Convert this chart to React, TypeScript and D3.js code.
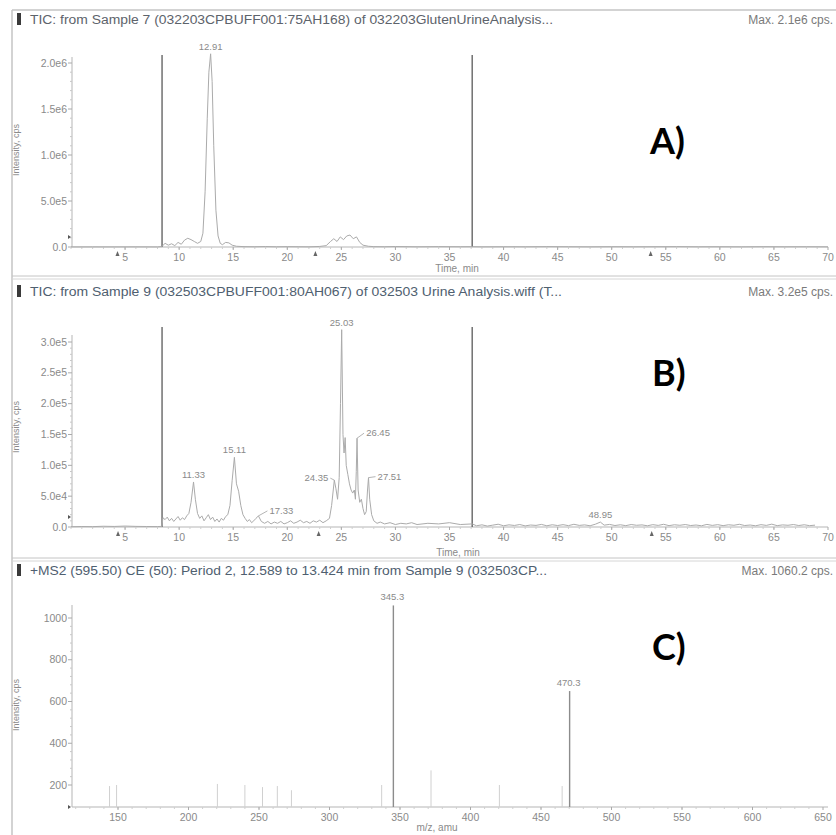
import React from "react";
import * as d3 from "d3";

// ---- panel A: TIC sample 7 (time, min / intensity, cps)
const timeA = [0, 2, 4, 6, 8, 8.4, 8.7, 9.0, 9.3, 9.6, 9.9, 10.2, 10.5, 10.8, 11.1, 11.4, 11.7, 12.0, 12.2, 12.4, 12.6, 12.75, 12.91, 13.05, 13.2, 13.4, 13.6, 13.8, 14.0, 14.3, 14.6, 14.9, 15.3, 16, 17, 18, 19, 20, 21, 22, 23, 23.6, 24.0, 24.3, 24.6, 24.9, 25.2, 25.5, 25.8, 26.1, 26.4, 26.7, 27.0, 27.5, 28, 29, 30, 32, 34, 36, 37.1, 38, 40, 42, 44, 46, 48, 50, 52, 54, 56, 58, 60, 62, 64, 66, 68, 70];
const intensityA = [1000, 1500, 1200, 1800, 1000, 5000, 40000, 20000, 35000, 15000, 50000, 30000, 75000, 95000, 80000, 60000, 40000, 60000, 150000, 600000, 1400000, 1900000, 2100000, 1800000, 1100000, 400000, 120000, 40000, 25000, 50000, 45000, 20000, 8000, 4000, 3000, 5000, 2500, 4000, 3000, 2000, 6000, 15000, 60000, 90000, 60000, 110000, 80000, 120000, 130000, 90000, 110000, 50000, 20000, 8000, 4000, 3000, 5000, 2500, 4000, 3000, 3500, 2000, 3000, 2500, 4000, 3000, 2000, 3500, 2500, 3000, 4000, 2500, 3000, 2000, 3500, 2500, 3000, 2000];
const peakTimesA = [12.91];
const peakHeightsA = [2100000];
const yTicksA = [0, 500000, 1000000, 1500000, 2000000];
const yTickLabelsA = ["0.0", "5.0e5", "1.0e6", "1.5e6", "2.0e6"];
const markerTimesA = [4.3, 22.6, 53.6];

// ---- panel B: TIC sample 9
const timeB = [0, 1, 2, 3, 4, 5, 6, 7, 8, 8.4, 8.5, 8.7, 8.9, 9.1, 9.3, 9.5, 9.7, 9.9, 10.1, 10.3, 10.5, 10.7, 10.9, 11.1, 11.33, 11.5, 11.7, 11.9, 12.1, 12.3, 12.5, 12.7, 12.9, 13.1, 13.3, 13.5, 13.7, 13.9, 14.1, 14.3, 14.5, 14.7, 14.9, 15.11, 15.3, 15.5, 15.7, 15.9, 16.1, 16.3, 16.5, 16.7, 16.9, 17.1, 17.33, 17.6, 17.9, 18.2, 18.5, 18.8, 19.1, 19.4, 19.7, 20.0, 20.3, 20.6, 20.9, 21.2, 21.5, 21.8, 22.1, 22.4, 22.7, 23.0, 23.3, 23.6, 23.9, 24.1, 24.35, 24.5, 24.65, 24.8, 24.92, 25.03, 25.15, 25.25, 25.35, 25.45, 25.6, 25.75, 25.9, 26.05, 26.2, 26.3, 26.38, 26.45, 26.55, 26.7, 26.85, 27.0, 27.15, 27.3, 27.42, 27.51, 27.62, 27.8, 28.0, 28.3, 28.6, 29, 29.5, 30, 30.5, 31, 31.5, 32, 33, 34, 35, 36, 37.1, 37.5, 38, 38.5, 39, 39.5, 40, 40.5, 41, 41.5, 42, 42.5, 43, 43.5, 44, 44.5, 45, 45.5, 46, 46.5, 47, 47.5, 48, 48.5, 48.95, 49.3, 49.8, 50.3, 50.8, 51.3, 51.8, 52.3, 52.8, 53.3, 53.8, 54.3, 54.8, 55.3, 55.8, 56.3, 56.8, 57.3, 57.8, 58.3, 58.8, 59.3, 59.8, 60.3, 60.8, 61.3, 61.8, 62.3, 62.8, 63.3, 63.8, 64.3, 64.8, 65.3, 65.8, 66.3, 66.8, 67.3, 67.8, 68.3, 68.8, 69.3, 70];
const intensityB = [500, 800, 600, 1200, 900, 1500, 1000, 800, 700, 1000, 15000, 12000, 16000, 10000, 14000, 9000, 13000, 17000, 11000, 15000, 12000, 18000, 22000, 40000, 73000, 45000, 22000, 14000, 18000, 10000, 15000, 20000, 12000, 16000, 9000, 13000, 8000, 14000, 11000, 17000, 20000, 35000, 75000, 113000, 70000, 58000, 35000, 20000, 14000, 9000, 12000, 7000, 10000, 14000, 18000, 9000, 6000, 9000, 5000, 8000, 6000, 9000, 5000, 7000, 10000, 6000, 8000, 11000, 7000, 9000, 6000, 10000, 8000, 11000, 7000, 10000, 14000, 35000, 76000, 62000, 45000, 80000, 200000, 320000, 150000, 120000, 145000, 100000, 85000, 70000, 60000, 55000, 60000, 45000, 90000, 144000, 60000, 40000, 45000, 30000, 20000, 25000, 60000, 80000, 45000, 20000, 10000, 6000, 8000, 5000, 7000, 4000, 6000, 5000, 7000, 4000, 6000, 5000, 7000, 4000, 5000, 2000, 3500, 1500, 3000, 4500, 2000, 3500, 2500, 4000, 1800, 3200, 2600, 4200, 2000, 3600, 2400, 3800, 2200, 4400, 2600, 3400, 2000, 4600, 8000, 3000, 4200, 2400, 3600, 2200, 4000, 2800, 3400, 2000, 3800, 2600, 4400, 2200, 3600, 2800, 4000, 2400, 3200, 2000, 4200, 2600, 3800, 2200, 3600, 2800, 4400, 2400, 3200, 2000, 3800, 2600, 4600, 2200, 3400, 2800, 4000, 2400, 3600, 2200, 3000];
const peakTimesB = [11.33, 15.11, 17.33, 24.35, 25.03, 26.45, 27.51, 48.95];
const peakHeightsB = [73000, 113000, 18000, 76000, 320000, 144000, 80000, 8000];
const yTicksB = [0, 50000, 100000, 150000, 200000, 250000, 300000];
const yTickLabelsB = ["0.0", "5.0e4", "1.0e5", "1.5e5", "2.0e5", "2.5e5", "3.0e5"];
const markerTimesB = [4.35, 22.9, 53.7];

// ---- panel C: MS2 spectrum (m/z / intensity, cps)
const mzC = [144, 149, 220.5, 240, 252.5, 263, 273, 337, 345.3, 372, 420.5, 465, 470.3];
const intensityC = [195, 200, 205, 200, 190, 195, 175, 200, 1060.2, 270, 200, 195, 650];
const labelledMzC = [345.3, 470.3];
const yTicksC = [200, 400, 600, 800, 1000];
const mzTicksC = [150, 200, 250, 300, 350, 400, 450, 500, 550, 600, 650];

const timeTicks = [5, 10, 15, 20, 25, 30, 35, 40, 45, 50, 55, 60, 65, 70];
const cutTimes = [8.42, 37.1];

const FONT = "'Liberation Sans', Arial, sans-serif";
const GREY = "#8a8a8a";
const TRACE = "#ababab";

const W = 836;
const H = 835;
const X0 = 72;

const xTime = d3.scaleLinear().domain([0, 70]).range([71, 828]);

function YAxis({ y, ticks, labels, top, bottom, markerY }) {
  const minor = [];
  for (let i = 0; i + 1 < ticks.length; i++) {
    const a = ticks[i];
    const b = ticks[i + 1];
    for (let k = 1; k < 5; k++) minor.push(a + ((b - a) * k) / 5);
  }
  return (
    <g>
      <line x1={X0} x2={X0} y1={top} y2={bottom} stroke="#b5b5b5" />
      {minor.map((v, i) => (
        <line key={"m" + i} x1={X0 - 2} x2={X0} y1={y(v)} y2={y(v)} stroke="#c8c8c8" />
      ))}
      {ticks.map((v, i) => (
        <g key={i}>
          <line x1={X0 - 4} x2={X0} y1={y(v)} y2={y(v)} stroke="#aaa" />
          <text x={X0 - 5} y={y(v) + 3.5} textAnchor="end" fontSize={10.5} fill={GREY} fontFamily={FONT}>
            {labels[i]}
          </text>
        </g>
      ))}
      <path d={`M${X0 - 4},${markerY - 2} l3,2 l-3,2 z`} fill="#555" />
    </g>
  );
}

function XAxis({ x, ticks, labels, base, minorStep, domain }) {
  const minor = d3.range(Math.ceil(domain[0] / minorStep) * minorStep, domain[1], minorStep);
  return (
    <g>
      <line x1={X0} x2={828} y1={base} y2={base} stroke="#b5b5b5" />
      {minor.map((v, i) => (
        <line key={"m" + i} x1={x(v)} x2={x(v)} y1={base} y2={base + 2} stroke="#cfcfcf" />
      ))}
      {ticks.map((v, i) => (
        <g key={i}>
          <line x1={x(v)} x2={x(v)} y1={base} y2={base + 3} stroke="#aaa" />
          <text x={x(v)} y={base + 14} textAnchor="middle" fontSize={10.5} fill={GREY} fontFamily={FONT}>
            {labels[i]}
          </text>
        </g>
      ))}
    </g>
  );
}

function TitleBar({ y, title, titleEnd, maxText, colour }) {
  return (
    <g>
      <rect x={17} y={y - 11} width={4} height={12} fill="#3a3a3a" />
      <text x={30} y={y} fontSize={12} fill={colour} fontFamily={FONT} textLength={titleEnd - 30} lengthAdjust="spacingAndGlyphs">
        {title}
      </text>
      <text x={833} y={y} textAnchor="end" fontSize={12} fill="#7a7a7a" fontFamily={FONT}>
        {maxText}
      </text>
    </g>
  );
}

function YLabel({ cy }) {
  return (
    <text transform={`translate(19,${cy}) rotate(-90)`} textAnchor="middle" fontSize={9} fill="#8a8a8a" fontFamily={FONT}>
      Intensity, cps
    </text>
  );
}

function Markers({ times, base }) {
  return (
    <g>
      {times.map((t, i) => (
        <path key={i} d={`M${xTime(t)},${base + 4} l2,5 l-4,0 z`} fill="#666" />
      ))}
    </g>
  );
}

export default function App() {
  // panel A
  const baseA = 247;
  const yA = d3.scaleLinear().domain([0, 2000000]).range([baseA, 63]);
  const lineA = d3
    .line<number>()
    .x((d, i) => xTime(timeA[i]))
    .y((d) => yA(d));

  // panel B
  const baseB = 527;
  const yB = d3.scaleLinear().domain([0, 300000]).range([baseB, 342]);
  const lineB = d3
    .line<number>()
    .x((d, i) => xTime(timeB[i]))
    .y((d) => yB(d));

  // panel C
  const baseC = 807;
  const yC = d3.scaleLinear().domain([200, 1000]).range([785, 618]);
  const xMz = d3.scaleLinear().domain([150, 650]).range([118, 823]);

  // label offsets for crowded B peaks (dx from peak, dy above top)
  const offB = {
    "17.33": { dx: 23, dy: 2, lead: true },
    "24.35": { dx: -18, dy: -1, lead: true },
    "26.45": { dx: 21, dy: 2, lead: true },
    "27.51": { dx: 21, dy: -2, lead: true },
  };

  const timeLabels = timeTicks.map(String);

  return (
    <svg width={W} height={H} style={{ position: "absolute", left: 0, top: 0, background: "#fff" }}>
      <rect x={0} y={0} width={W} height={H} fill="#fff" />
      {/* frame */}
      <line x1={12} x2={12} y1={10} y2={H} stroke="#c4c4c4" strokeWidth={1.5} />
      <line x1={12} x2={W} y1={10} y2={10} stroke="#c4c4c4" strokeWidth={1.5} />
      <line x1={12} x2={W} y1={276} y2={276} stroke="#c4c4c4" />
      <line x1={12} x2={W} y1={279} y2={279} stroke="#d6d6d6" />
      <line x1={12} x2={W} y1={558} y2={558} stroke="#c4c4c4" />
      <line x1={12} x2={W} y1={561} y2={561} stroke="#d6d6d6" />

      {/* ---- A ---- */}
      <TitleBar y={24} title="TIC: from Sample 7 (032203CPBUFF001:75AH168) of 032203GlutenUrineAnalysis..." titleEnd={553} maxText="Max. 2.1e6 cps." colour="#5d636b" />
      <YAxis y={yA} ticks={yTicksA} labels={yTickLabelsA} top={57} bottom={baseA} markerY={baseA - 10} />
      <XAxis x={xTime} ticks={timeTicks} labels={timeLabels} base={baseA} minorStep={1} domain={[0, 70]} />
      <Markers times={markerTimesA} base={baseA} />
      <YLabel cy={150} />
      <text x={457} y={272} textAnchor="middle" fontSize={10} fill={GREY} fontFamily={FONT}>Time, min</text>
      {cutTimes.map((t, i) => (
        <line key={i} x1={xTime(t)} x2={xTime(t)} y1={55} y2={baseA} stroke="#707070" strokeWidth={1.5} />
      ))}
      <path d={lineA(intensityA) || ""} fill="none" stroke={TRACE} strokeWidth={1} />
      {peakTimesA.map((t, i) => (
        <text key={i} x={xTime(t)} y={yA(peakHeightsA[i]) - 4} textAnchor="middle" fontSize={9.5} fill={GREY} fontFamily={FONT}>
          {t.toFixed(2)}
        </text>
      ))}
      <text x={650} y={154} fontSize={36} fontWeight={700} fill="#000" fontFamily="Lato, 'Open Sans', sans-serif">A)</text>

      {/* ---- B ---- */}
      <TitleBar y={296} title="TIC: from Sample 9 (032503CPBUFF001:80AH067) of 032503 Urine Analysis.wiff (T..." titleEnd={562} maxText="Max. 3.2e5 cps." colour="#4f6070" />
      <YAxis y={yB} ticks={yTicksB} labels={yTickLabelsB} top={335} bottom={baseB} markerY={baseB - 10} />
      <XAxis x={xTime} ticks={timeTicks} labels={timeLabels} base={baseB} minorStep={1} domain={[0, 70]} />
      <Markers times={markerTimesB} base={baseB} />
      <YLabel cy={427} />
      <text x={458} y={556} textAnchor="middle" fontSize={10} fill={GREY} fontFamily={FONT}>Time, min</text>
      {cutTimes.map((t, i) => (
        <line key={i} x1={xTime(t)} x2={xTime(t)} y1={327} y2={baseB} stroke="#707070" strokeWidth={1.5} />
      ))}
      <path d={lineB(intensityB) || ""} fill="none" stroke={TRACE} strokeWidth={1} />
      {peakTimesB.map((t, i) => {
        const key = t.toFixed(2);
        const o = offB[key] || { dx: 0, dy: 4, lead: false };
        const px = xTime(t);
        const py = yB(peakHeightsB[i]);
        const lx = px + o.dx;
        const ly = py - o.dy;
        return (
          <g key={i}>
            {o.lead && (
              <line x1={px} x2={o.dx > 0 ? lx - 14 : lx + 14} y1={py} y2={ly - 3} stroke="#b5b5b5" />
            )}
            <text x={lx} y={ly} textAnchor="middle" fontSize={9.5} fill={GREY} fontFamily={FONT}>
              {key}
            </text>
          </g>
        );
      })}
      <text x={652} y={386} fontSize={36} fontWeight={700} fill="#000" fontFamily="Lato, 'Open Sans', sans-serif">B)</text>

      {/* ---- C ---- */}
      <TitleBar y={575} title="+MS2 (595.50) CE (50): Period 2, 12.589 to 13.424 min from Sample 9 (032503CP..." titleEnd={547} maxText="Max. 1060.2 cps." colour="#4f6070" />
      <YAxis y={yC} ticks={yTicksC} labels={yTicksC.map(String)} top={605} bottom={baseC} markerY={baseC} />
      <XAxis x={xMz} ticks={mzTicksC} labels={mzTicksC.map(String)} base={baseC} minorStep={10} domain={[120, 650]} />
      <YLabel cy={705} />
      <text x={437} y={831} textAnchor="middle" fontSize={10} fill={GREY} fontFamily={FONT}>m/z, amu</text>
      {mzC.map((m, i) => (
        <line
          key={i}
          x1={xMz(m)}
          x2={xMz(m)}
          y1={baseC}
          y2={yC(intensityC[i])}
          stroke={intensityC[i] > 500 ? "#8c8c8c" : "#d0d0d0"}
          strokeWidth={intensityC[i] > 500 ? 1.4 : 1}
        />
      ))}
      {labelledMzC.map((m, i) => (
        <text key={i} x={xMz(m) - 1} y={yC(intensityC[mzC.indexOf(m)]) - 5} textAnchor="middle" fontSize={9.5} fill={GREY} fontFamily={FONT}>
          {m.toFixed(1)}
        </text>
      ))}
      <text x={652} y={660} fontSize={36} fontWeight={700} fill="#000" fontFamily="Lato, 'Open Sans', sans-serif">C)</text>
    </svg>
  );
}
